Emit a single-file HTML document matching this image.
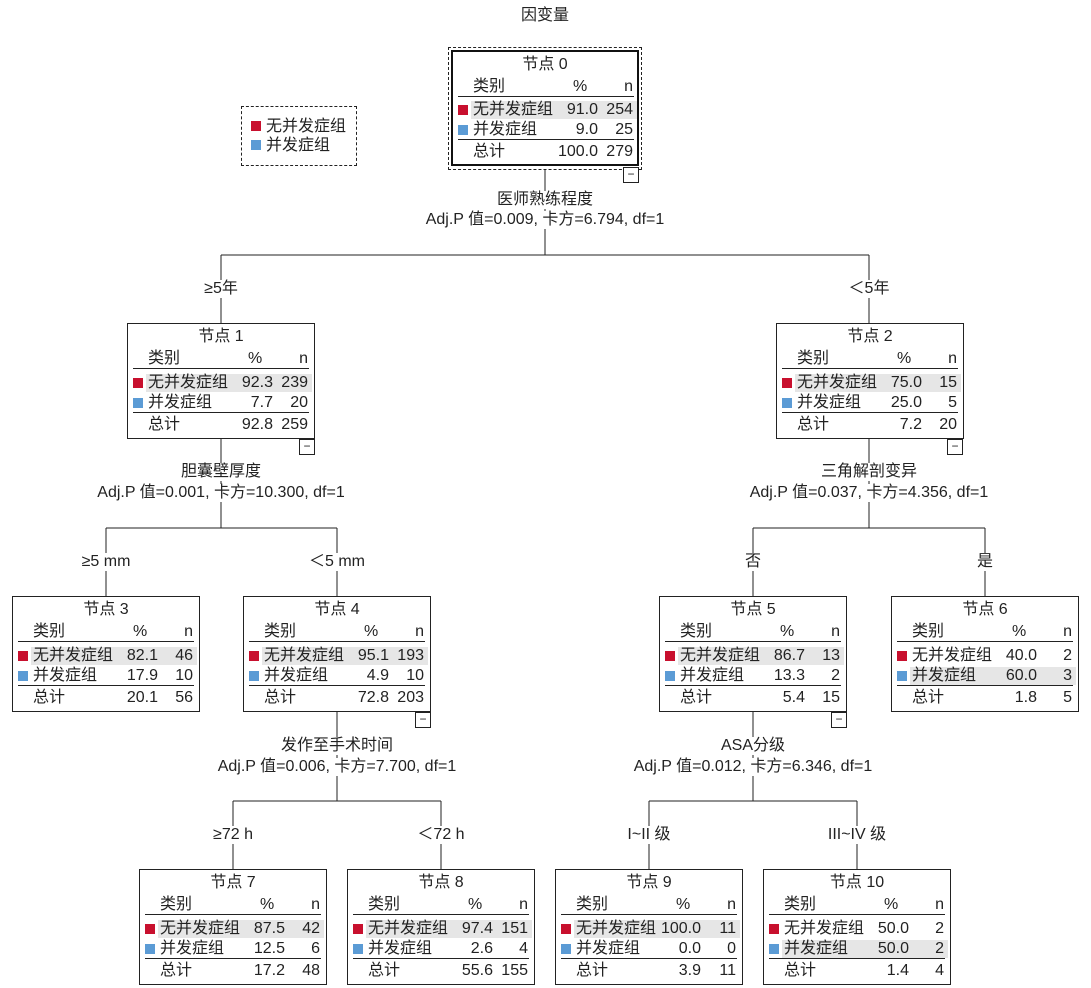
<!DOCTYPE html>
<html><head><meta charset="utf-8"><style>
body{margin:0;width:1091px;height:988px;background:#fff;position:relative;overflow:hidden;font-family:"Liberation Sans","Noto Sans CJK SC",sans-serif;font-size:16px;color:#222}
.a{position:absolute;white-space:nowrap}
.lb{position:absolute;white-space:nowrap;transform:translate(-50%,-50%);background:#fff;padding:0 2px;line-height:18px}
.nd{position:absolute;width:186px;height:114px;border:1px solid #222;background:#fff}
.nd .t{position:absolute;left:0;right:0;top:3px;text-align:center;line-height:20px}
.r{position:absolute;left:0;width:186px;height:20px;line-height:20px}
.r .c{position:absolute;left:20px}
.r .p{position:absolute;right:41px}
.r .n{position:absolute;right:6px}
.r .pc{position:absolute;left:120px}
.r .sq{position:absolute;left:5px;top:5px;width:10px;height:10px}
.red{background:#c8102e}.blue{background:#5b9bd5}
.hl{background:#e6e6e6;left:18px;width:166px;height:18px;top:1px;position:absolute}
.ln{position:absolute;left:5px;width:176px;height:1px;background:#222}
.mn{position:absolute;width:14px;height:14px;border:1px solid #222;background:#fff;font-size:12px;line-height:12px;text-align:center}
</style></head><body>
<svg width="1091" height="988" style="position:absolute;left:0;top:0" stroke="#222" stroke-width="1" shape-rendering="crispEdges">
<line x1="545" y1="170" x2="545" y2="255"/><line x1="221" y1="255" x2="869" y2="255"/>
<line x1="221" y1="255" x2="221" y2="323"/><line x1="869" y1="255" x2="869" y2="323"/>
<line x1="221" y1="439" x2="221" y2="528"/><line x1="106" y1="528" x2="337" y2="528"/>
<line x1="106" y1="528" x2="106" y2="596"/><line x1="337" y1="528" x2="337" y2="596"/>
<line x1="869" y1="439" x2="869" y2="528"/><line x1="753" y1="528" x2="985" y2="528"/>
<line x1="753" y1="528" x2="753" y2="596"/><line x1="985" y1="528" x2="985" y2="596"/>
<line x1="337" y1="712" x2="337" y2="801"/><line x1="233" y1="801" x2="441" y2="801"/>
<line x1="233" y1="801" x2="233" y2="869"/><line x1="441" y1="801" x2="441" y2="869"/>
<line x1="753" y1="712" x2="753" y2="801"/><line x1="649" y1="801" x2="857" y2="801"/>
<line x1="649" y1="801" x2="649" y2="869"/><line x1="857" y1="801" x2="857" y2="869"/>
</svg>
<div class="lb" style="left:545px;top:16px">因变量</div>
<div class="a" style="left:241px;top:106px;width:114px;height:58px;border:1px dashed #222"></div>
<div class="a" style="left:251px;top:121px"><div class="red" style="width:10px;height:10px"></div></div>
<div class="a" style="left:266px;top:117px;line-height:20px">无并发症组</div>
<div class="a" style="left:251px;top:140px"><div class="blue" style="width:10px;height:10px"></div></div>
<div class="a" style="left:266px;top:136px;line-height:20px">并发症组</div>

<div class="lb" style="left:545px;top:200px">医师熟练程度</div>
<div class="lb" style="left:545px;top:220px">Adj.P 值=0.009, 卡方=6.794, df=1</div>
<div class="lb" style="left:221px;top:289px">≥5年</div>
<div class="lb" style="left:869px;top:289px">＜5年</div>
<div class="lb" style="left:221px;top:472px">胆囊壁厚度</div>
<div class="lb" style="left:221px;top:493px">Adj.P 值=0.001, 卡方=10.300, df=1</div>
<div class="lb" style="left:869px;top:472px">三角解剖变异</div>
<div class="lb" style="left:869px;top:493px">Adj.P 值=0.037, 卡方=4.356, df=1</div>
<div class="lb" style="left:106px;top:562px">≥5 mm</div>
<div class="lb" style="left:337px;top:562px">＜5 mm</div>
<div class="lb" style="left:753px;top:562px">否</div>
<div class="lb" style="left:985px;top:562px">是</div>
<div class="lb" style="left:337px;top:746px">发作至手术时间</div>
<div class="lb" style="left:337px;top:767px">Adj.P 值=0.006, 卡方=7.700, df=1</div>
<div class="lb" style="left:753px;top:746px">ASA分级</div>
<div class="lb" style="left:753px;top:767px">Adj.P 值=0.012, 卡方=6.346, df=1</div>
<div class="lb" style="left:233px;top:835px">≥72 h</div>
<div class="lb" style="left:441px;top:835px">＜72 h</div>
<div class="lb" style="left:649px;top:835px">I~II 级</div>
<div class="lb" style="left:857px;top:835px">III~IV 级</div>

<div class="a" style="left:448px;top:47px;width:192px;height:121px;border:1px dashed #222"></div>
<div class="nd" style="left:451px;top:50px;width:184px;height:112px;border:2px solid #111">
<div class="t">节点 0</div>
<div class="r" style="top:25px"><span class="c">类别</span><span class="pc">%</span><span class="n">n</span></div>
<div class="ln" style="top:44px"></div>
<div class="r" style="top:48px"><div class="hl"></div><div class="sq red"></div><span class="c">无并发症组</span><span class="p">91.0</span><span class="n">254</span></div>
<div class="r" style="top:68px"><div class="sq blue"></div><span class="c">并发症组</span><span class="p">9.0</span><span class="n">25</span></div>
<div class="ln" style="top:87px"></div>
<div class="r" style="top:90px"><span class="c">总计</span><span class="p">100.0</span><span class="n">279</span></div>
</div>
<div class="mn" style="left:623px;top:167px">−</div>

<div class="nd" style="left:127px;top:323px">
<div class="t">节点 1</div>
<div class="r" style="top:25px"><span class="c">类别</span><span class="pc">%</span><span class="n">n</span></div>
<div class="ln" style="top:44px"></div>
<div class="r" style="top:49px"><div class="hl"></div><div class="sq red"></div><span class="c">无并发症组</span><span class="p">92.3</span><span class="n">239</span></div>
<div class="r" style="top:69px"><div class="sq blue"></div><span class="c">并发症组</span><span class="p">7.7</span><span class="n">20</span></div>
<div class="ln" style="top:88px"></div>
<div class="r" style="top:91px"><span class="c">总计</span><span class="p">92.8</span><span class="n">259</span></div>
</div>
<div class="mn" style="left:299px;top:439px">−</div>

<div class="nd" style="left:776px;top:323px">
<div class="t">节点 2</div>
<div class="r" style="top:25px"><span class="c">类别</span><span class="pc">%</span><span class="n">n</span></div>
<div class="ln" style="top:44px"></div>
<div class="r" style="top:49px"><div class="hl"></div><div class="sq red"></div><span class="c">无并发症组</span><span class="p">75.0</span><span class="n">15</span></div>
<div class="r" style="top:69px"><div class="sq blue"></div><span class="c">并发症组</span><span class="p">25.0</span><span class="n">5</span></div>
<div class="ln" style="top:88px"></div>
<div class="r" style="top:91px"><span class="c">总计</span><span class="p">7.2</span><span class="n">20</span></div>
</div>
<div class="mn" style="left:947px;top:439px">−</div>

<div class="nd" style="left:12px;top:596px">
<div class="t">节点 3</div>
<div class="r" style="top:25px"><span class="c">类别</span><span class="pc">%</span><span class="n">n</span></div>
<div class="ln" style="top:44px"></div>
<div class="r" style="top:49px"><div class="hl"></div><div class="sq red"></div><span class="c">无并发症组</span><span class="p">82.1</span><span class="n">46</span></div>
<div class="r" style="top:69px"><div class="sq blue"></div><span class="c">并发症组</span><span class="p">17.9</span><span class="n">10</span></div>
<div class="ln" style="top:88px"></div>
<div class="r" style="top:91px"><span class="c">总计</span><span class="p">20.1</span><span class="n">56</span></div>
</div>

<div class="nd" style="left:243px;top:596px">
<div class="t">节点 4</div>
<div class="r" style="top:25px"><span class="c">类别</span><span class="pc">%</span><span class="n">n</span></div>
<div class="ln" style="top:44px"></div>
<div class="r" style="top:49px"><div class="hl"></div><div class="sq red"></div><span class="c">无并发症组</span><span class="p">95.1</span><span class="n">193</span></div>
<div class="r" style="top:69px"><div class="sq blue"></div><span class="c">并发症组</span><span class="p">4.9</span><span class="n">10</span></div>
<div class="ln" style="top:88px"></div>
<div class="r" style="top:91px"><span class="c">总计</span><span class="p">72.8</span><span class="n">203</span></div>
</div>
<div class="mn" style="left:415px;top:712px">−</div>

<div class="nd" style="left:659px;top:596px">
<div class="t">节点 5</div>
<div class="r" style="top:25px"><span class="c">类别</span><span class="pc">%</span><span class="n">n</span></div>
<div class="ln" style="top:44px"></div>
<div class="r" style="top:49px"><div class="hl"></div><div class="sq red"></div><span class="c">无并发症组</span><span class="p">86.7</span><span class="n">13</span></div>
<div class="r" style="top:69px"><div class="sq blue"></div><span class="c">并发症组</span><span class="p">13.3</span><span class="n">2</span></div>
<div class="ln" style="top:88px"></div>
<div class="r" style="top:91px"><span class="c">总计</span><span class="p">5.4</span><span class="n">15</span></div>
</div>
<div class="mn" style="left:831px;top:712px">−</div>

<div class="nd" style="left:891px;top:596px">
<div class="t">节点 6</div>
<div class="r" style="top:25px"><span class="c">类别</span><span class="pc">%</span><span class="n">n</span></div>
<div class="ln" style="top:44px"></div>
<div class="r" style="top:49px"><div class="sq red"></div><span class="c">无并发症组</span><span class="p">40.0</span><span class="n">2</span></div>
<div class="r" style="top:69px"><div class="hl"></div><div class="sq blue"></div><span class="c">并发症组</span><span class="p">60.0</span><span class="n">3</span></div>
<div class="ln" style="top:88px"></div>
<div class="r" style="top:91px"><span class="c">总计</span><span class="p">1.8</span><span class="n">5</span></div>
</div>

<div class="nd" style="left:139px;top:869px">
<div class="t">节点 7</div>
<div class="r" style="top:25px"><span class="c">类别</span><span class="pc">%</span><span class="n">n</span></div>
<div class="ln" style="top:44px"></div>
<div class="r" style="top:49px"><div class="hl"></div><div class="sq red"></div><span class="c">无并发症组</span><span class="p">87.5</span><span class="n">42</span></div>
<div class="r" style="top:69px"><div class="sq blue"></div><span class="c">并发症组</span><span class="p">12.5</span><span class="n">6</span></div>
<div class="ln" style="top:88px"></div>
<div class="r" style="top:91px"><span class="c">总计</span><span class="p">17.2</span><span class="n">48</span></div>
</div>

<div class="nd" style="left:347px;top:869px">
<div class="t">节点 8</div>
<div class="r" style="top:25px"><span class="c">类别</span><span class="pc">%</span><span class="n">n</span></div>
<div class="ln" style="top:44px"></div>
<div class="r" style="top:49px"><div class="hl"></div><div class="sq red"></div><span class="c">无并发症组</span><span class="p">97.4</span><span class="n">151</span></div>
<div class="r" style="top:69px"><div class="sq blue"></div><span class="c">并发症组</span><span class="p">2.6</span><span class="n">4</span></div>
<div class="ln" style="top:88px"></div>
<div class="r" style="top:91px"><span class="c">总计</span><span class="p">55.6</span><span class="n">155</span></div>
</div>

<div class="nd" style="left:555px;top:869px">
<div class="t">节点 9</div>
<div class="r" style="top:25px"><span class="c">类别</span><span class="pc">%</span><span class="n">n</span></div>
<div class="ln" style="top:44px"></div>
<div class="r" style="top:49px"><div class="hl"></div><div class="sq red"></div><span class="c">无并发症组</span><span class="p">100.0</span><span class="n">11</span></div>
<div class="r" style="top:69px"><div class="sq blue"></div><span class="c">并发症组</span><span class="p">0.0</span><span class="n">0</span></div>
<div class="ln" style="top:88px"></div>
<div class="r" style="top:91px"><span class="c">总计</span><span class="p">3.9</span><span class="n">11</span></div>
</div>

<div class="nd" style="left:763px;top:869px">
<div class="t">节点 10</div>
<div class="r" style="top:25px"><span class="c">类别</span><span class="pc">%</span><span class="n">n</span></div>
<div class="ln" style="top:44px"></div>
<div class="r" style="top:49px"><div class="sq red"></div><span class="c">无并发症组</span><span class="p">50.0</span><span class="n">2</span></div>
<div class="r" style="top:69px"><div class="hl"></div><div class="sq blue"></div><span class="c">并发症组</span><span class="p">50.0</span><span class="n">2</span></div>
<div class="ln" style="top:88px"></div>
<div class="r" style="top:91px"><span class="c">总计</span><span class="p">1.4</span><span class="n">4</span></div>
</div>
</body></html>
